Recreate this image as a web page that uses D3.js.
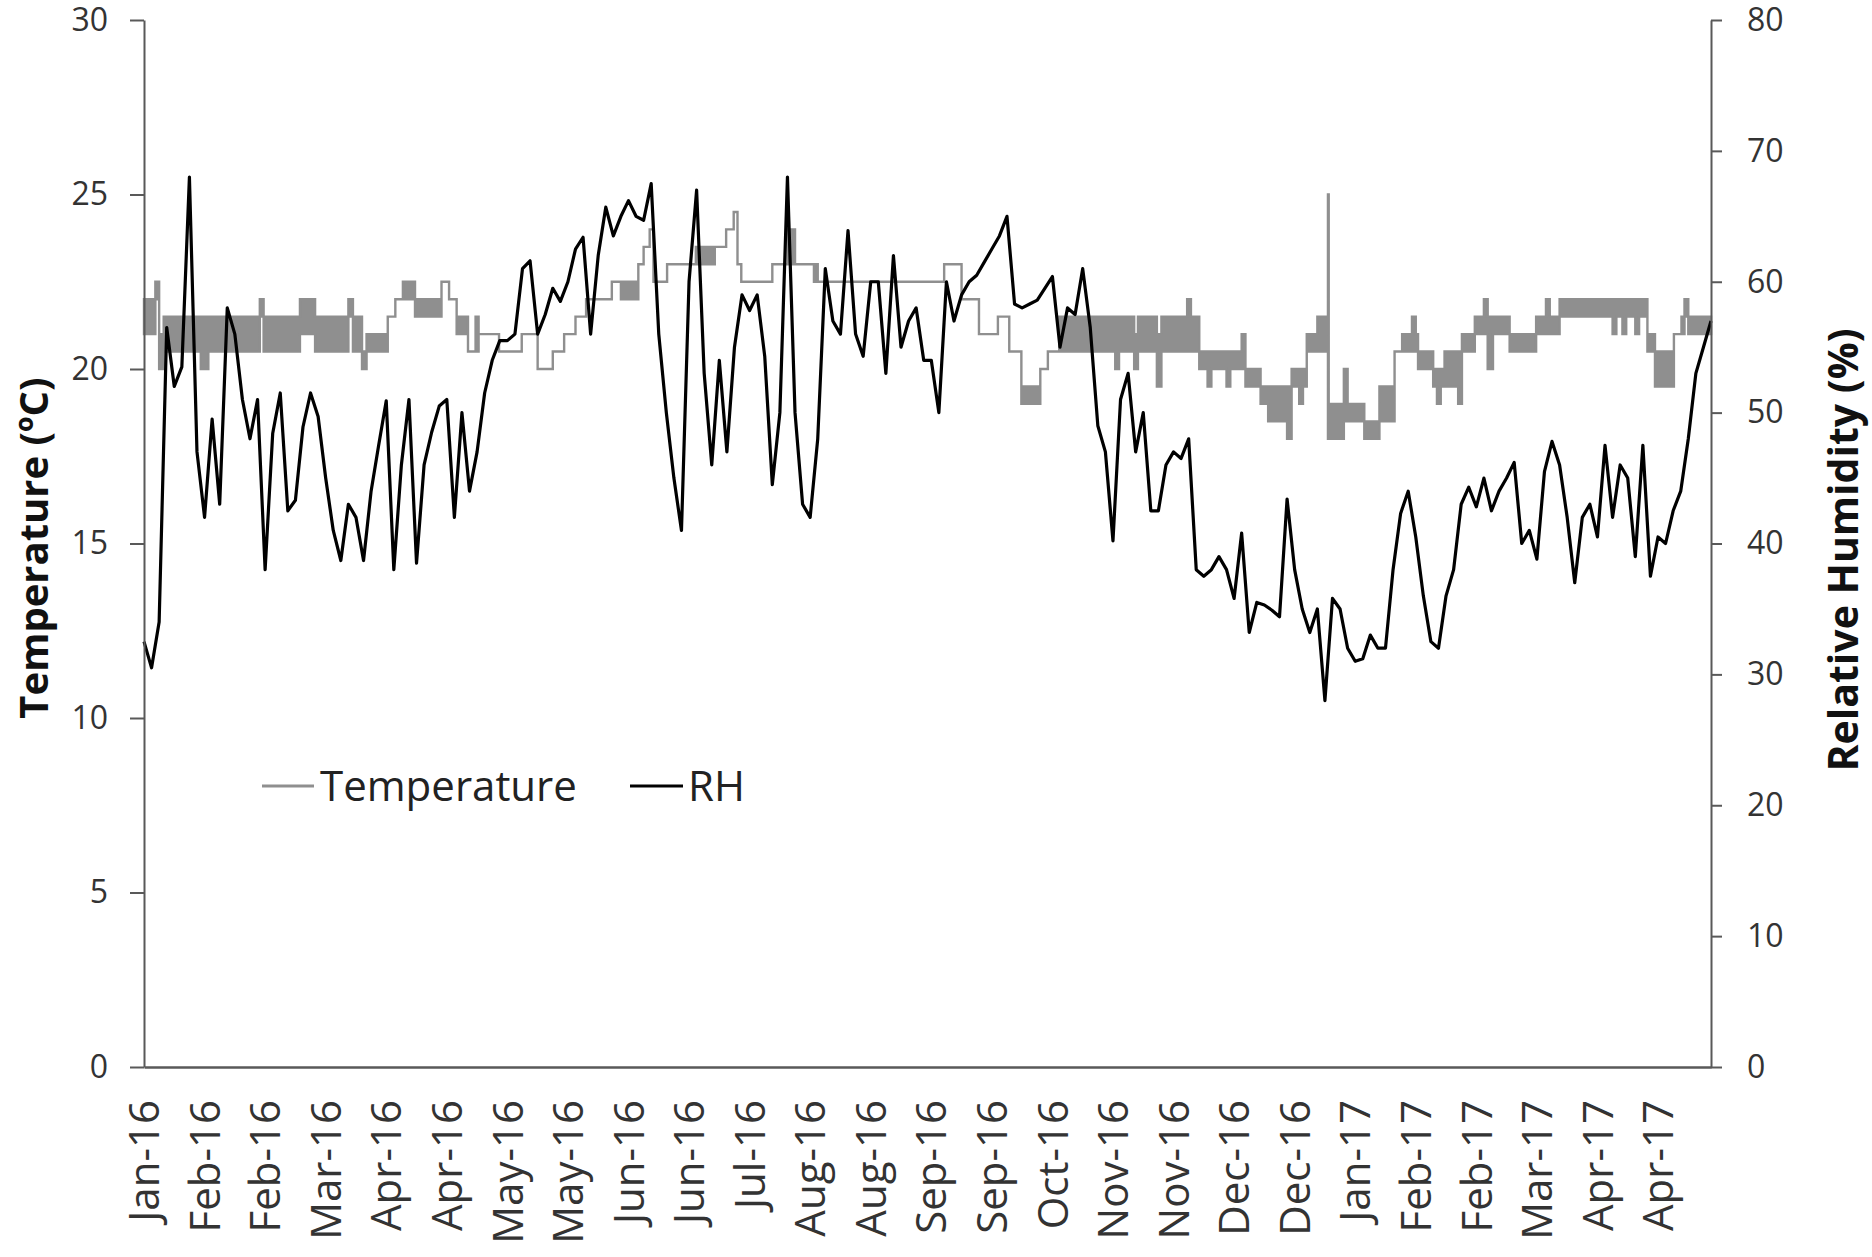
<!DOCTYPE html>
<html>
<head>
<meta charset="utf-8">
<script src="https://cdn.jsdelivr.net/npm/d3@7"></script>
<style>
  body { margin: 0; background: #fff; }
  svg { display: block; }
  text { font-family: "Open Sans", sans-serif; }
</style>
</head>
<body>
<svg id="chart" width="1872" height="1257"></svg>
<script>
// Category labels along the time axis (one every labelStep readings)
const xLabels = ["Jan-16","Feb-16","Feb-16","Mar-16","Apr-16","Apr-16","May-16","May-16",
  "Jun-16","Jun-16","Jul-16","Aug-16","Aug-16","Sep-16","Sep-16","Oct-16","Nov-16","Nov-16",
  "Dec-16","Dec-16","Jan-17","Feb-17","Feb-17","Mar-17","Apr-17","Apr-17"];
const labelStep = 8;

const tempTicks = [0, 5, 10, 15, 20, 25, 30];
const rhTicks = [0, 10, 20, 30, 40, 50, 60, 70, 80];

// Relative humidity (%), one value per reading
const rhValues = [
  32.5, 30.5, 34, 56.5, 52, 53.5, 68, 47, 42, 49.5,
  43, 58, 56, 51, 48, 51, 38, 48.4, 51.5, 42.5,
  43.3, 48.9, 51.5, 49.7, 45, 41, 38.7, 43, 42, 38.7,
  44, 47.5, 50.9, 38, 46, 51, 38.5, 46, 48.5, 50.5,
  51, 42, 50, 44, 47, 51.5, 54, 55.5, 55.5, 56,
  61, 61.6, 56, 57.5, 59.5, 58.5, 60, 62.5, 63.4, 56,
  62, 65.7, 63.5, 65, 66.2, 65, 64.7, 67.5, 56, 50,
  45, 41, 60, 67, 53, 46, 54, 47, 55, 59,
  57.8, 59, 54.3, 44.5, 50, 68, 50, 43, 42, 48,
  61, 57, 56, 63.9, 56, 54.3, 60, 60, 53, 62,
  55, 57, 58, 54, 54, 50, 60, 57, 59, 60,
  60.5, 61.5, 62.5, 63.5, 65, 58.3, 58, 58.3, 58.6, 59.5,
  60.4, 55, 58, 57.5, 61, 56.5, 49, 47, 40.2, 51,
  53, 47, 50, 42.5, 42.5, 46, 47, 46.5, 48, 38,
  37.5, 38, 39, 38, 35.8, 40.8, 33.2, 35.5, 35.3, 34.9,
  34.4, 43.4, 38, 35, 33.2, 35, 28, 35.8, 35, 32,
  31, 31.2, 33, 32, 32, 38, 42.3, 44, 40.5, 36,
  32.5, 32, 36, 38, 43, 44.3, 42.8, 45, 42.5, 44,
  45, 46.2, 40, 41, 38.8, 45.5, 47.8, 46, 42, 37,
  42, 43, 40.5, 47.5, 42, 46, 45, 39, 47.5, 37.5,
  40.5, 40, 42.5, 44, 48, 53, 55, 57
];

// Temperature (ºC) as runs: from reading tempStart[k] the sensor reads
// between tempLo[k] and tempHi[k] (equal values = steady reading)
const tempStart = [0, 1.5, 2, 2.6, 7.5, 8.5, 15.3, 15.8, 20.6, 22.6,
  27, 27.6, 28.8, 29.4, 32.2, 33.2, 34.2, 35.8, 39.3, 40.3,
  41.3, 42.8, 43.8, 44.2, 46.9, 49.9, 52, 54, 55.5, 57,
  58.4, 61.8, 63, 65.3, 66, 66.8, 67.3, 69.1, 72.9, 75.4,
  76.9, 77.9, 78.4, 78.9, 83, 85, 86, 88.5, 89, 105.7,
  108, 110.3, 112.8, 114.3, 115.9, 118.4, 119.4, 120.9, 128.3, 128.8,
  130.8, 131.3, 133.8, 134.4, 137.8, 138.3, 139.4, 140.5, 141, 143,
  143.5, 145, 145.5, 147.5, 148.5, 151, 151.6, 152.6, 153.1, 153.6,
  155, 156.4, 156.5, 158.5, 159, 161.2, 163.2, 165.2, 166.2, 167.5,
  168, 168.3, 170.3, 170.8, 171.3, 171.8, 173.6, 174.1, 175.8, 177,
  177.5, 178.2, 180.4, 183.9, 185.2, 185.7, 187, 194, 194.5, 195.3,
  195.8, 197, 197.5, 198.6, 199.6, 202.1, 203.1, 203.5, 204, 207];
const tempLo = [21, 22, 20, 20.5, 20, 20.5, 21.5, 20.5, 21, 20.5,
  21.5, 20.5, 20, 20.5, 21.5, 22, 22, 21.5, 22.5, 22,
  21, 20.5, 20.5, 21, 20.5, 21, 20, 20.5, 21, 21.5,
  22, 22.5, 22, 23, 23.5, 24, 22.5, 23, 23, 23.5,
  24, 24.5, 23, 22.5, 23, 23, 23, 22.5, 22.5, 23,
  22, 21, 21.5, 20.5, 19, 20, 20.5, 20.5, 20, 20.5,
  20, 20.5, 19.5, 20.5, 20.5, 20.5, 20, 19.5, 20, 19.5,
  20, 20, 19.5, 19, 18.5, 18, 19.5, 19, 19.5, 20.5,
  20.5, 18, 18, 18.5, 18.5, 18, 18.5, 20.5, 20.5, 20.5,
  20.5, 20, 19.5, 19, 19.5, 19.5, 19, 20.5, 21, 21,
  20, 21, 20.5, 21, 21, 21, 21.5, 21, 21.5, 21,
  21.5, 21, 21.5, 20.5, 19.5, 21, 21, 21.5, 21, 21];
const tempHi = [22, 22.5, 21, 21.5, 21.5, 21.5, 22, 21.5, 22, 21.5,
  22, 21.5, 20.5, 21, 21.5, 22, 22.5, 22, 22.5, 22,
  21.5, 20.5, 21.5, 21, 20.5, 21, 20, 20.5, 21, 21.5,
  22, 22.5, 22.5, 23, 23.5, 24, 22.5, 23, 23.5, 23.5,
  24, 24.5, 23, 22.5, 23, 24, 23, 23, 22.5, 23,
  22, 21, 21.5, 20.5, 19.5, 20, 20.5, 21.5, 21.5, 21.5,
  21, 21.5, 21, 21.5, 22, 21.5, 20.5, 20.5, 20.5, 20.5,
  20.5, 21, 20, 19.5, 19.5, 19.5, 20, 20, 20, 21,
  21.5, 25, 19, 20, 19, 18.5, 19.5, 20.5, 21, 21.5,
  21, 20.5, 20, 20, 20, 20.5, 20.5, 21, 21.5, 22,
  21.5, 21.5, 21, 21.5, 22, 21.5, 22, 22, 22, 22,
  22, 22, 22, 21, 20.5, 21, 21.5, 22, 21.5, 21.5];

const svg = d3.select("#chart");
svg.append("rect").attr("width", 1872).attr("height", 1257).attr("fill", "#fff");

const plot = { left: 144, right: 1711, top: 20, bottom: 1067 };

const x = d3.scaleLinear().domain([0, rhValues.length - 1]).range([plot.left, plot.right]);
const yT = d3.scaleLinear().domain([0, 30]).range([plot.bottom, plot.top]);
const yRH = d3.scaleLinear().domain([0, 80]).range([plot.bottom, plot.top]);

const axisColor = "#595959";
const textColor = "#333";
const tempColor = "#8f8f8f";

// Temperature: run bands drawn as a stepped area with its outline
const tempRuns = tempStart.map((s, k) => ({ s, lo: tempLo[k], hi: tempHi[k] }));
const tempArea = d3.area()
  .x(d => x(d.s))
  .y0(d => yT(d.lo))
  .y1(d => yT(d.hi))
  .curve(d3.curveStepAfter);
svg.append("path")
  .datum(tempRuns)
  .attr("d", tempArea)
  .attr("fill", tempColor)
  .attr("stroke", tempColor)
  .attr("stroke-width", 2.4)
  .attr("stroke-linejoin", "miter");

// Relative humidity line
const rhLine = d3.line()
  .x((d, i) => x(i))
  .y(d => yRH(d));
svg.append("path")
  .datum(rhValues)
  .attr("d", rhLine)
  .attr("fill", "none")
  .attr("stroke", "#000")
  .attr("stroke-width", 3.2)
  .attr("stroke-linejoin", "round");

// Left axis: temperature
const gL = svg.append("g")
  .attr("transform", `translate(${plot.left},0)`)
  .call(d3.axisLeft(yT).tickValues(tempTicks).tickSize(14).tickSizeOuter(0).tickPadding(22));
// Right axis: relative humidity
const gR = svg.append("g")
  .attr("transform", `translate(${plot.right},0)`)
  .call(d3.axisRight(yRH).tickValues(rhTicks).tickSize(11).tickSizeOuter(0).tickPadding(25));
[gL, gR].forEach(g => {
  g.selectAll("path, line").attr("stroke", axisColor).attr("stroke-width", 2);
  g.selectAll("text").attr("font-size", 32).attr("fill", textColor)
    .style("font-family", "'Open Sans', sans-serif");
});

// Bottom axis with rotated month labels
const labelIdx = xLabels.map((_, k) => k * labelStep);
const gB = svg.append("g")
  .attr("transform", `translate(0,${plot.bottom})`)
  .call(d3.axisBottom(x).tickValues(labelIdx).tickSize(0).tickSizeOuter(0)
    .tickFormat((d, k) => xLabels[k]));
gB.select(".domain").attr("stroke", axisColor).attr("stroke-width", 2.4);
gB.selectAll("text")
  .attr("font-size", 42)
  .attr("fill", textColor)
  .style("font-family", "'Open Sans', sans-serif")
  .attr("transform", "rotate(-90)")
  .attr("x", -33)
  .attr("y", 0)
  .attr("dy", "0.35em")
  .style("text-anchor", "end");

// Axis titles
svg.append("text")
  .attr("transform", "translate(48,548) rotate(-90)")
  .attr("text-anchor", "middle")
  .attr("font-size", 40)
  .attr("font-weight", "bold")
  .attr("fill", "#111")
  .text("Temperature (ºC)");
svg.append("text")
  .attr("transform", "translate(1858,550) rotate(-90)")
  .attr("text-anchor", "middle")
  .attr("font-size", 41)
  .attr("font-weight", "bold")
  .attr("fill", "#111")
  .text("Relative Humidity (%)");

// Legend
const legend = [
  { name: "Temperature", color: tempColor, x1: 262, x2: 314, tx: 320 },
  { name: "RH", color: "#000", x1: 630, x2: 683, tx: 688 }
];
const lg = svg.append("g");
legend.forEach(e => {
  lg.append("line").attr("x1", e.x1).attr("x2", e.x2).attr("y1", 786).attr("y2", 786)
    .attr("stroke", e.color).attr("stroke-width", 3);
  lg.append("text").attr("x", e.tx).attr("y", 786).attr("dy", "0.35em")
    .attr("font-size", 42).attr("fill", "#222").text(e.name);
});
</script>
</body>
</html>
